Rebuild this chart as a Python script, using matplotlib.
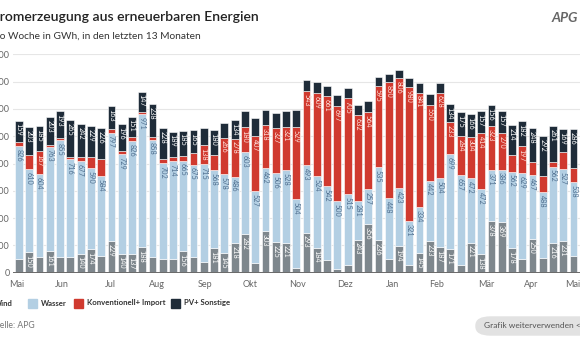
import matplotlib
matplotlib.use('Agg')
import matplotlib.pyplot as plt
from matplotlib.patches import Rectangle, FancyBboxPatch
import numpy as np

plt.rcParams['font.family'] = ['Lato', 'DejaVu Sans']

# Wochenwerte in GWh
wind = [100, 150, 117, 161, 115, 117, 140, 174, 122, 229, 140, 137, 188, 117, 103, 103, 156, 117, 80, 181,
        145, 218, 282, 68, 303, 225, 221, 34, 293, 184, 93, 25, 59, 243, 356, 236, 100, 194, 59, 145,
        233, 187, 171, 59, 221, 138, 378, 369, 178, 100, 250, 105, 216, 231, 124]
wasser = [826, 610, 604, 763, 855, 716, 677, 590, 584, 797, 729, 826, 971, 858, 702, 714, 665, 675, 715, 568,
          578, 486, 603, 527, 462, 506, 528, 504, 493, 524, 542, 500, 515, 281, 257, 535, 448, 423, 321, 334,
          442, 504, 699, 657, 472, 472, 371, 386, 562, 629, 467, 488, 562, 527, 538]
konv = [30, 102, 167, 15, 20, 18, 28, 80, 130, 30, 25, 29, 20, 21, 25, 27, 35, 88, 138, 114,
        266, 278, 180, 407, 318, 327, 321, 529, 543, 609, 661, 697, 705, 632, 564, 595, 850, 806, 980, 841,
        550, 628, 233, 284, 304, 414, 323, 270, 125, 197, 93, 118, 34, 126, 104]
pv = [159, 203, 185, 203, 193, 265, 242, 229, 226, 163, 196, 151, 147, 238, 228, 189, 185, 165, 128, 180,
      108, 134, 120, 128, 109, 110, 117, 125, 80, 80, 70, 80, 72, 75, 78, 65, 60, 65, 70, 70,
      85, 70, 134, 175, 166, 157, 156, 157, 214, 182, 248, 292, 261, 169, 286]

monate = ['Mai', 'Jun', 'Jul', 'Aug', 'Sep', 'Okt', 'Nov', 'Dez', 'Jan', 'Feb', 'Mär', 'Apr', 'Mai']
monat_pos = [-0.2, 4.2, 8.9, 13.4, 18.1, 22.5, 27.1, 31.7, 36.4, 40.7, 45.5, 49.9, 53.9]

serien = [('Wind', wind, '#7e878d', 'white'),
          ('Wasser', wasser, '#b3cfe3', '#4f6f8f'),
          ('Konventionell+ Import', konv, '#d03a2f', '#ffe3de'),
          ('PV+ Sonstige', pv, '#1f2c39', 'white')]

W, H = 580, 340
fig = plt.figure(figsize=(W / 100, H / 100), dpi=100)

# Achse (links bei 13px, rechts über den Rand hinaus)
ax_l, ax_r, ax_t, ax_b = 13, 600, 54.3, 272.7
ax = fig.add_axes([ax_l / W, 1 - ax_b / H, (ax_r - ax_l) / W, (ax_b - ax_t) / H])

x = np.arange(len(wind))
unten = np.zeros(len(wind))
for name, werte, farbe, tfarbe in serien:
    werte = np.array(werte, dtype=float)
    ax.bar(x, werte, bottom=unten, width=0.76, color=farbe, edgecolor='white', linewidth=0.4, zorder=3)
    for xi, b, v in zip(x, unten, werte):
        if v >= 134:
            ax.annotate(str(int(v)), (xi, b + v), xytext=(0, -2), textcoords='offset points',
                        rotation=-90, ha='center', va='top', fontsize=5.2, color=tfarbe, zorder=4)
    unten += werte

ax.set_xlim((ax_l - 19) / 10.27, (ax_r - 19) / 10.27)
ax.set_ylim(0, 1600)
ax.set_yticks(range(0, 1601, 200))
ax.set_xticks(monat_pos)
ax.set_xticklabels(monate)
ax.tick_params(axis='both', length=0, labelsize=6.5, labelcolor='#666666')
ax.tick_params(axis='y', pad=2.5)
ax.tick_params(axis='x', pad=5)
ax.grid(axis='y', color='#e6e6e6', linewidth=0.8, zorder=0)
ax.axhline(0, color='#6b6b6b', linewidth=1.4, zorder=5)
for s in ax.spines.values():
    s.set_visible(False)

# Texte, links abgeschnitten wie im Original
r = fig.canvas.get_renderer()


def breite(txt, **kw):
    t = fig.text(0, 0, txt, **kw)
    w = t.get_window_extent(r).width
    t.remove()
    return w


kw_t = dict(fontsize=10.1, fontweight='semibold', color='#222222')
fig.text(-breite('St', **kw_t) / W, 1 - 17 / H, 'Stromerzeugung aus erneuerbaren Energien', va='center', **kw_t)
kw_s = dict(fontsize=7.3, color='#333333')
fig.text(-breite('Pr', **kw_s) / W, 1 - 36 / H, 'Pro Woche in GWh, in den letzten 13 Monaten', va='center', **kw_s)
kw_q = dict(fontsize=6.2, color='#777777')
fig.text(-breite('Qu', **kw_q) / W, 1 - 326 / H, 'Quelle: APG', va='center', **kw_q)

# Legende
leg_y = 303
leg_x = [-19, 28, 74, 171]
for (name, werte, farbe, tfarbe), lx in zip(serien, leg_x):
    fig.patches.append(Rectangle((lx / W, 1 - (leg_y + 4.5) / H), 8.5 / W, 9 / H,
                                 transform=fig.transFigure, color=farbe))
    fig.text((lx + 13) / W, 1 - leg_y / H, name, va='center', fontsize=5.6,
             fontweight='bold', color='#333333')

# Button
fig.patches.append(FancyBboxPatch((476 / W, 1 - 335 / H), 130 / W, 18 / H,
                                  boxstyle='round,pad=0,rounding_size=0.025',
                                  transform=fig.transFigure, color='#e2e2e2'))
fig.text(484 / W, 1 - 326 / H, 'Grafik weiterverwenden </>', va='center', fontsize=6.0, color='#555555')

# Logo
fig.text(578 / W, 1 - 18 / H, 'APG', ha='right', va='center', fontsize=10, fontstyle='italic',
         fontweight='bold', color='#666666')

fig.savefig('out.png', dpi=100)
